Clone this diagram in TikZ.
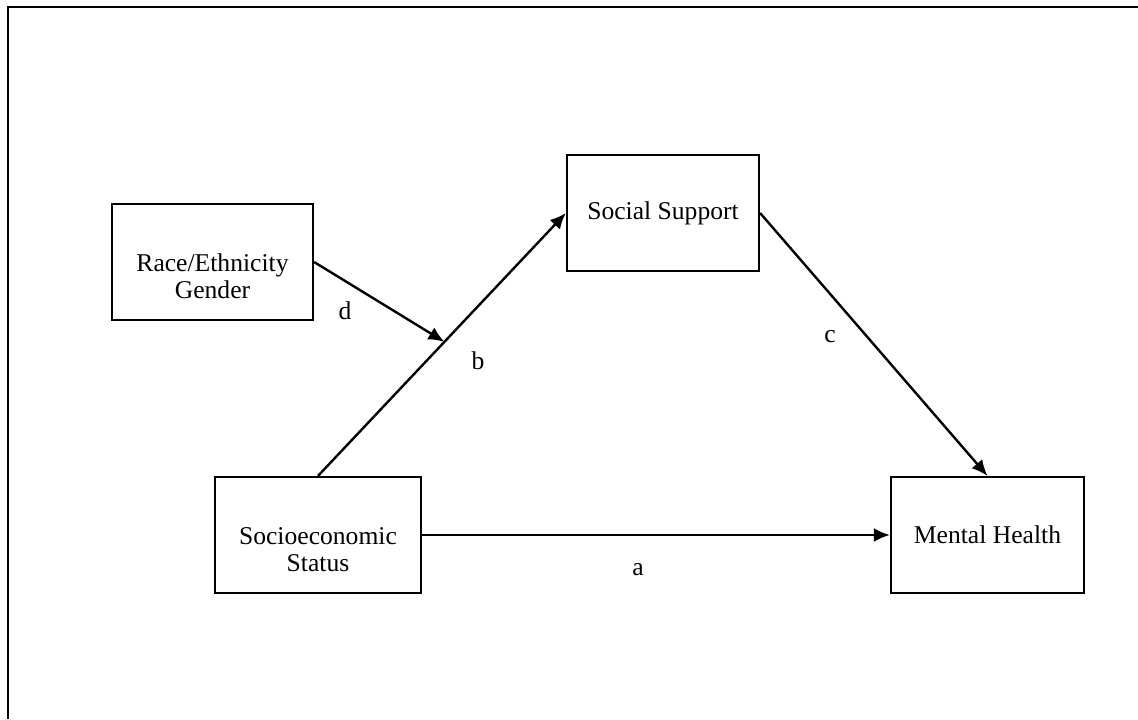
\documentclass[tikz,border=0pt]{standalone}
\usepackage{fontspec}
\setmainfont{Liberation Serif}
\usetikzlibrary{calc, arrows.meta}
\tikzset{
  box/.style = {
    draw, line width=1.1pt, minimum height=58pt, inner sep=2pt,
    align=center, font=\fontsize{12.8}{13.5}\selectfont
  },
  path arrow/.style = {
    line width=1.2pt, -{Latex[length=8pt,width=7pt]}
  },
  letter/.style = {
    font=\fontsize{12.8}{13.5}\selectfont
  }
}

\begin{document}
\begin{tikzpicture}[x=0.5pt, y=-0.5pt]
    \useasboundingbox (0,0) rectangle (1138,719);
    % le cadre
    \draw[line width=1pt] (8,719) -- (8,7) -- (1138,7);
    % les boites
    \node[box, minimum width=100.5pt] (race) at (212.5,262) {\strut\\Race/Ethnicity\\Gender};
    \node[box, minimum width=96pt] (social) at (663,213) {Social Support};
    \node[box, minimum width=103pt] (ses) at (318,535) {\strut\\Socioeconomic\\Status};
    \node[box, minimum width=96.5pt] (mental) at (987.5,535) {Mental Health};
    % le point sur b
    \path
      ($(ses.north)!.51!(social.west)$) coordinate (bmid)
    ;
    % les fleches
    \path
      (ses) edge[path arrow] (mental)
      (ses.north) edge[path arrow] (social.west)
      (social.east) edge[path arrow] (mental.north)
      (race.east) edge[path arrow] (bmid)
    ;
    % lettres
    \node[letter] (la) at (638,570) {a};
    \node[letter] (lb) at (478,361) {b};
    \node[letter] (lc) at (830,337) {c};
    \node[letter] (ld) at (345,311) {d};
  \end{tikzpicture}
\end{document}
